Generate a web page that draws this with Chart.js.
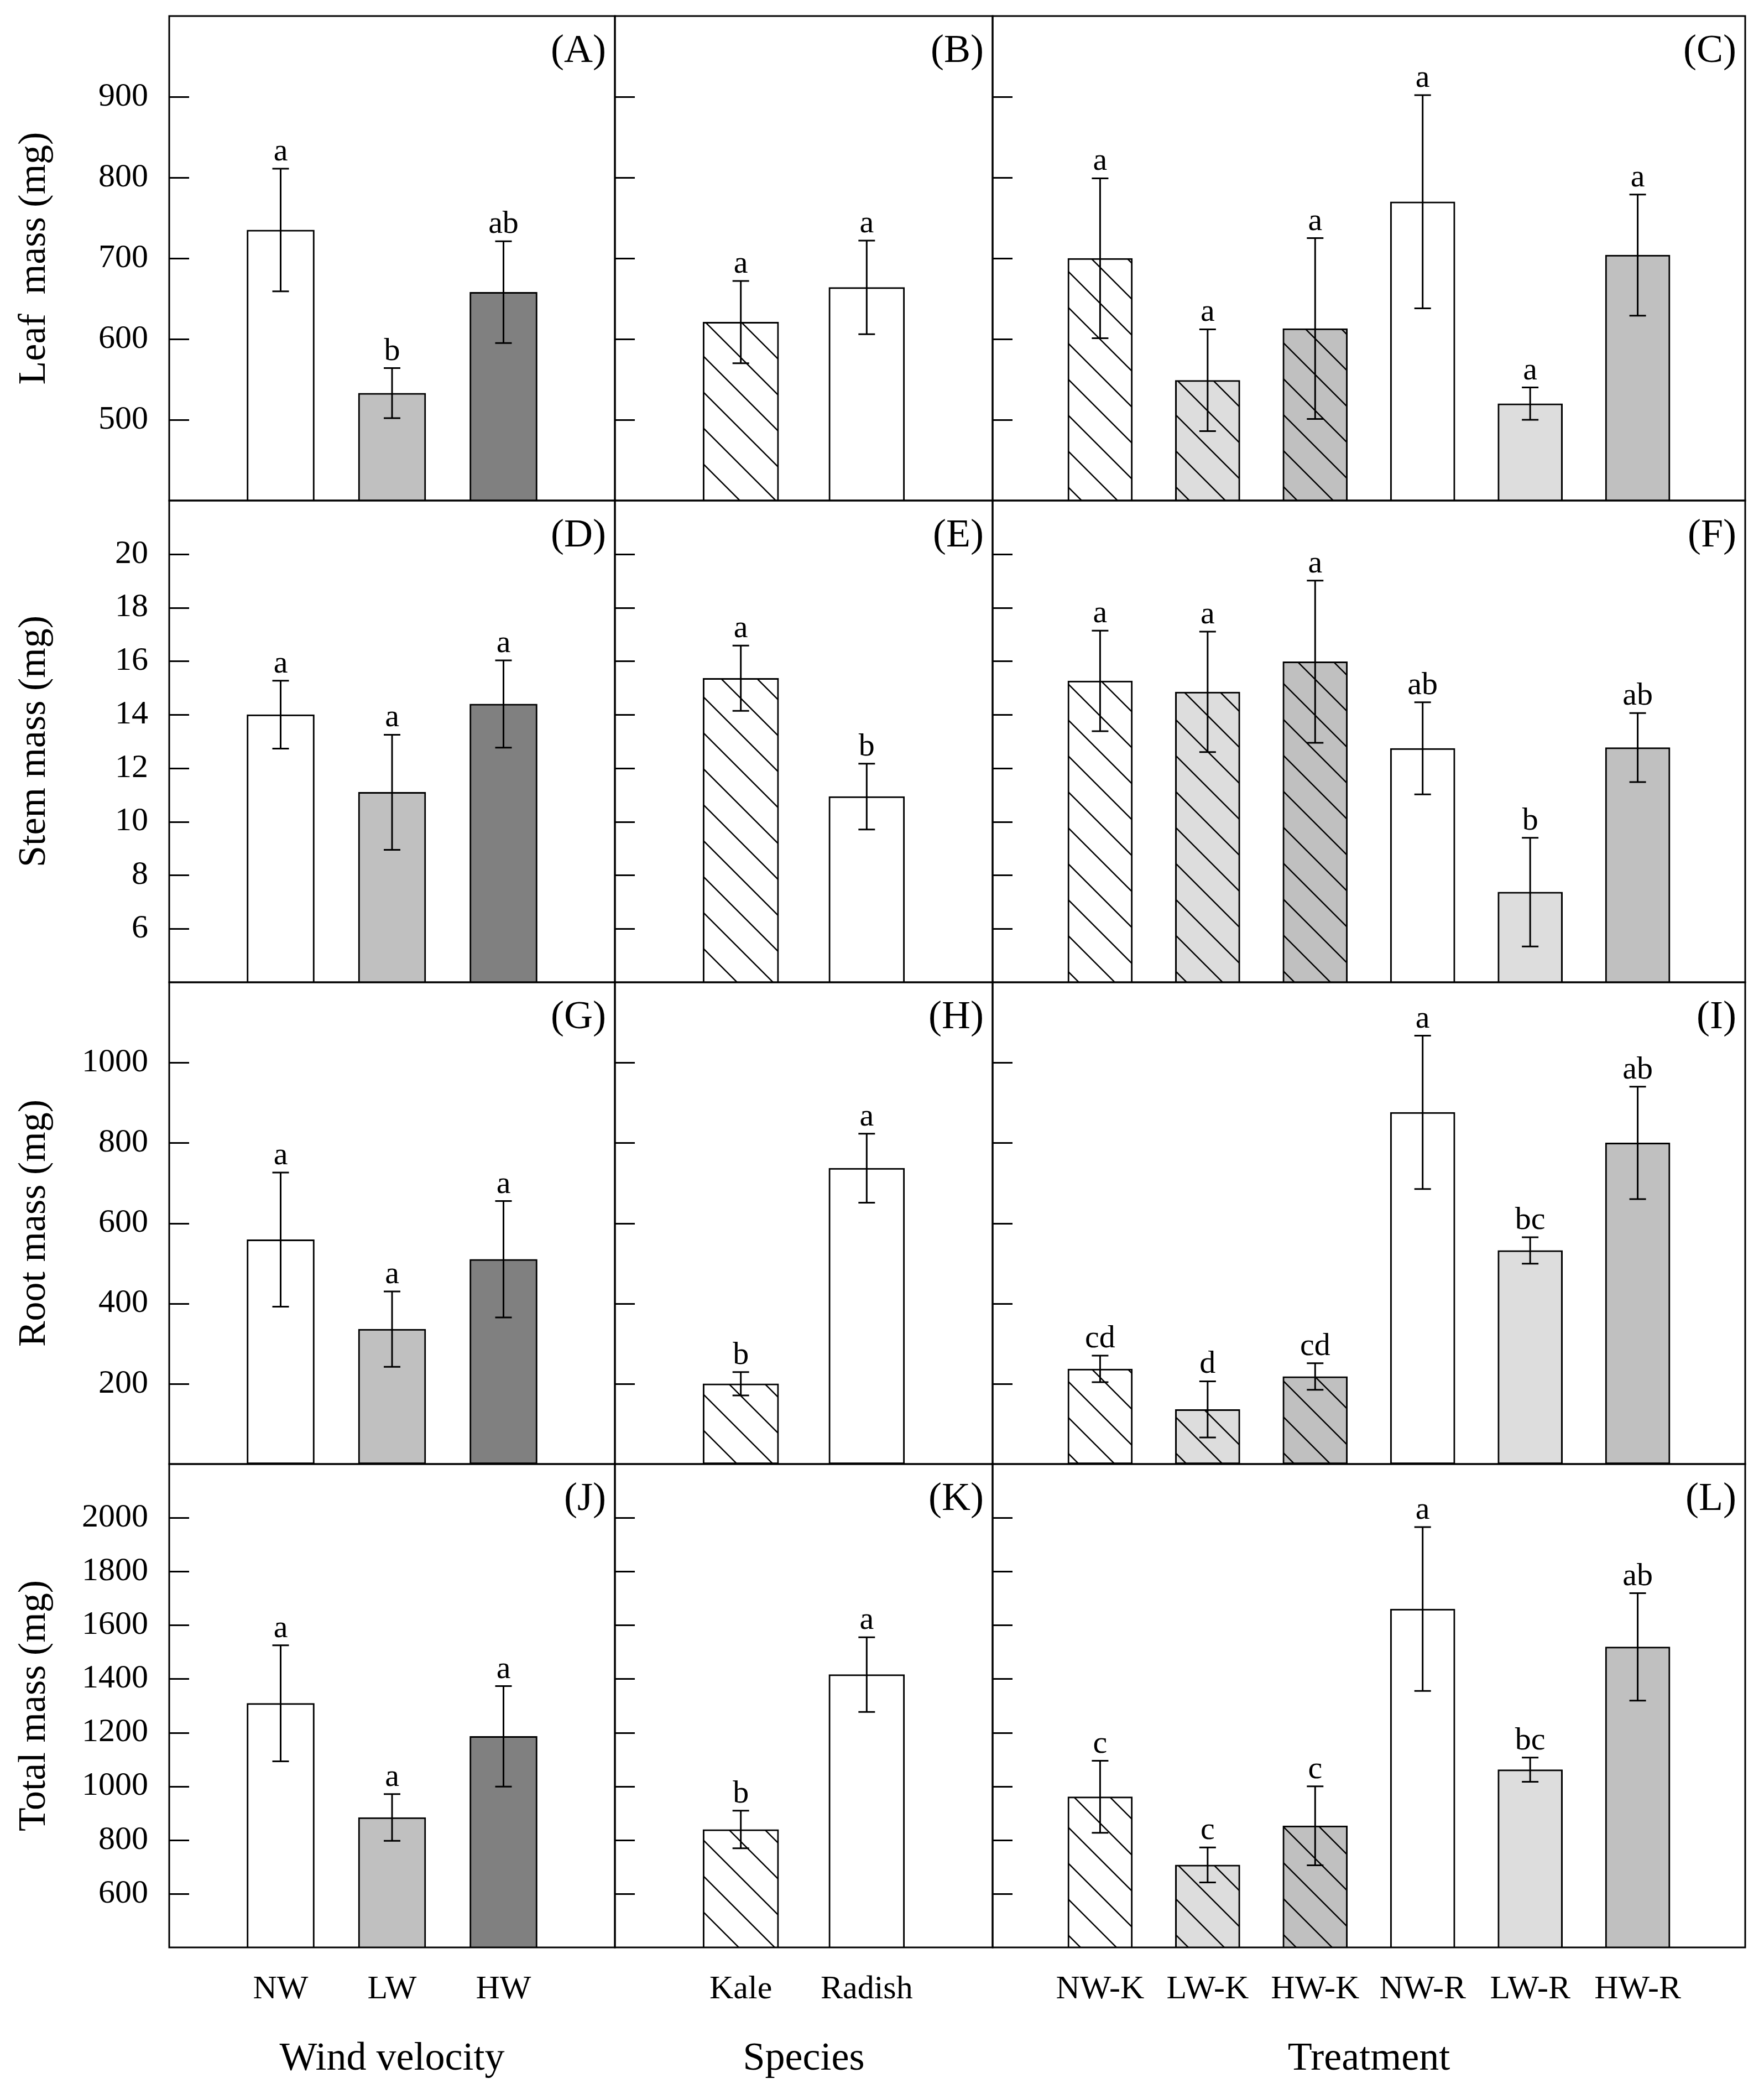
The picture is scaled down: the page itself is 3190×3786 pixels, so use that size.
<!DOCTYPE html>
<html>
<head>
<meta charset="utf-8">
<title>Leaf, stem, root and total mass</title>
<script src="https://cdn.jsdelivr.net/npm/chart.js"></script>
<style>
  body { margin: 0; background: #fff; }
  #fig { position: relative; width: 3190px; height: 3786px; background: #fff; }
  #fig canvas { position: absolute; }
</style>
</head>
<body>
<div id="fig"></div>
<script>
// categories
const windCats = ['NW', 'LW', 'HW'];
const speciesCats = ['Kale', 'Radish'];
const treatCats = ['NW-K', 'LW-K', 'HW-K', 'NW-R', 'LW-R', 'HW-R'];

// leaf mass (mg)
const leafWind = [735, 533, 658];
const leafWindErr = [76, 31, 63];
const leafWindSig = ['a', 'b', 'ab'];
const leafSpecies = [621, 664];
const leafSpeciesErr = [51, 58];
const leafSpeciesSig = ['a', 'a'];
const leafTreat = [700, 549, 613, 770, 520, 704];
const leafTreatErr = [99, 63, 112, 132, 20, 75];
const leafTreatSig = ['a', 'a', 'a', 'a', 'a', 'a'];

// stem mass (mg)
const stemWind = [14.0, 11.1, 14.4];
const stemWindErr = [1.27, 2.15, 1.63];
const stemWindSig = ['a', 'a', 'a'];
const stemSpecies = [15.36, 10.94];
const stemSpeciesErr = [1.22, 1.23];
const stemSpeciesSig = ['a', 'b'];
const stemTreat = [15.26, 14.85, 15.98, 12.74, 7.37, 12.77];
const stemTreatErr = [1.88, 2.25, 3.03, 1.72, 2.03, 1.29];
const stemTreatSig = ['a', 'a', 'a', 'ab', 'b', 'ab'];

// root mass (mg)
const rootWind = [559, 336, 510];
const rootWindErr = [167, 94, 145];
const rootWindSig = ['a', 'a', 'a'];
const rootSpecies = [200, 737];
const rootSpeciesErr = [29, 86];
const rootSpeciesSig = ['b', 'a'];
const rootTreat = [237, 136, 218, 876, 532, 800];
const rootTreatErr = [33, 70, 33, 191, 33, 140];
const rootTreatSig = ['cd', 'd', 'cd', 'a', 'bc', 'ab'];

// total mass (mg)
const totalWind = [1309, 884, 1186];
const totalWindErr = [216, 87, 187];
const totalWindSig = ['a', 'a', 'a'];
const totalSpecies = [839, 1416];
const totalSpeciesErr = [70, 139];
const totalSpeciesSig = ['b', 'a'];
const totalTreat = [961, 707, 853, 1660, 1062, 1519];
const totalTreatErr = [134, 65, 147, 305, 45, 200];
const totalTreatSig = ['c', 'c', 'c', 'a', 'bc', 'ab'];

// y tick labels
const leafTicks = [500, 600, 700, 800, 900];
const stemTicks = [6, 8, 10, 12, 14, 16, 18, 20];
const rootTicks = [200, 400, 600, 800, 1000];
const totalTicks = [600, 800, 1000, 1200, 1400, 1600, 1800, 2000];

const colX = [306, 1112, 1795, 3156];
const rowY = [29, 905, 1776, 2647, 3521];
const serif = '"Liberation Serif", "Times New Roman", serif';

function hatch(bg) {
  const s = 65;
  const c = document.createElement('canvas');
  c.width = s; c.height = s;
  const g = c.getContext('2d');
  g.fillStyle = bg;
  g.fillRect(0, 0, s, s);
  g.strokeStyle = '#000';
  g.lineWidth = 2.5;
  for (const k of [-1, 0, 1]) {
    g.beginPath();
    g.moveTo(k * s - 5, -5);
    g.lineTo(k * s + s + 5, s + 5);
    g.stroke();
  }
  return g.createPattern(c, 'repeat');
}

const windFill = ['#ffffff', '#c0c0c0', '#808080'];
const speciesFill = [hatch('#ffffff'), '#ffffff'];
const treatFill = [hatch('#ffffff'), hatch('#dddddd'), hatch('#c0c0c0'), '#ffffff', '#dddddd', '#c0c0c0'];

const rows = [
  { title: 'Leaf  mass (mg)', min: 400, max: 1000, ticks: leafTicks,
    panels: [[leafWind, leafWindErr, leafWindSig], [leafSpecies, leafSpeciesErr, leafSpeciesSig], [leafTreat, leafTreatErr, leafTreatSig]] },
  { title: 'Stem mass (mg)', min: 4, max: 22, ticks: stemTicks,
    panels: [[stemWind, stemWindErr, stemWindSig], [stemSpecies, stemSpeciesErr, stemSpeciesSig], [stemTreat, stemTreatErr, stemTreatSig]] },
  { title: 'Root mass (mg)', min: 0, max: 1200, ticks: rootTicks,
    panels: [[rootWind, rootWindErr, rootWindSig], [rootSpecies, rootSpeciesErr, rootSpeciesSig], [rootTreat, rootTreatErr, rootTreatSig]] },
  { title: 'Total mass (mg)', min: 400, max: 2200, ticks: totalTicks,
    panels: [[totalWind, totalWindErr, totalWindSig], [totalSpecies, totalSpeciesErr, totalSpeciesSig], [totalTreat, totalTreatErr, totalTreatSig]] }
];
const cols = [
  { cats: windCats, fill: windFill, bar: 122, xTitle: 'Wind velocity' },
  { cats: speciesCats, fill: speciesFill, bar: 137, xTitle: 'Species' },
  { cats: treatCats, fill: treatFill, bar: 117, xTitle: 'Treatment' }
];

// error bars, letters, inward ticks, frame and panel tag
const panelDeco = {
  id: 'panelDeco',
  afterDatasetsDraw(chart, args, opts) {
    const { ctx, chartArea: a, scales: { x, y } } = chart;
    const vals = chart.data.datasets[0].data;
    ctx.save();
    ctx.strokeStyle = '#000';
    ctx.fillStyle = '#000';
    ctx.lineWidth = 3;
    ctx.font = '58px ' + serif;
    ctx.textAlign = 'center';
    ctx.textBaseline = 'alphabetic';
    vals.forEach((v, i) => {
      if (v == null) return;
      const e = opts.err[i - 1];
      const px = x.getPixelForValue(i);
      const top = y.getPixelForValue(v + e);
      const bot = y.getPixelForValue(v - e);
      ctx.beginPath();
      ctx.moveTo(px, top); ctx.lineTo(px, bot);
      ctx.moveTo(px - 15, top); ctx.lineTo(px + 15, top);
      ctx.moveTo(px - 15, bot); ctx.lineTo(px + 15, bot);
      ctx.stroke();
      ctx.fillText(opts.sig[i - 1], px, top - 15);
    });
    ctx.beginPath();
    opts.ticks.forEach(t => {
      const py = Math.round(y.getPixelForValue(t)) + 0.5;
      ctx.moveTo(a.left, py); ctx.lineTo(a.left + 36, py);
    });
    ctx.stroke();
    ctx.strokeRect(a.left, a.top, a.right - a.left, a.bottom - a.top);
    ctx.font = '72px ' + serif;
    ctx.textAlign = 'right';
    ctx.textBaseline = 'middle';
    ctx.fillText('(' + opts.tag + ')', a.right - 16, a.top + 64);
    ctx.restore();
  }
};

const fig = document.getElementById('fig');
const tags = 'ABCDEFGHIJKL';

rows.forEach((row, r) => {
  cols.forEach((col, c) => {
    const [vals, errs, sigs] = row.panels[c];
    const left = c === 0 ? 0 : colX[c] - 10;
    const right = colX[c + 1] + 10;
    const top = rowY[r] - 10;
    const bottom = r === 3 ? 3786 : rowY[r + 1] + 10;
    const cv = document.createElement('canvas');
    cv.width = right - left;
    cv.height = bottom - top;
    cv.style.left = left + 'px';
    cv.style.top = top + 'px';
    cv.style.width = (right - left) + 'px';
    cv.style.height = (bottom - top) + 'px';
    fig.appendChild(cv);

    new Chart(cv, {
      type: 'bar',
      data: {
        labels: ['', ...col.cats, ''],
        datasets: [{
          data: [null, ...vals, null],
          backgroundColor: ['#fff', ...col.fill, '#fff'],
          borderColor: '#000',
          borderWidth: 3,
          borderSkipped: false,
          barThickness: col.bar
        }]
      },
      options: {
        responsive: false,
        animation: false,
        devicePixelRatio: 1,
        layout: { padding: { left: c === 0 ? 0 : 10, right: 10, top: 10, bottom: r === 3 ? 0 : 10 } },
        plugins: {
          legend: { display: false },
          tooltip: { enabled: false },
          panelDeco: { err: errs, sig: sigs, ticks: row.ticks, tag: tags[r * 3 + c] }
        },
        scales: {
          x: {
            type: 'category',
            offset: false,
            display: r === 3,
            grid: { display: false },
            border: { display: false },
            ticks: { autoSkip: false, maxRotation: 0, padding: 32, color: '#000', font: { family: serif, size: 60 } },
            title: { display: true, text: col.xTitle, color: '#000', font: { family: serif, size: 72 }, padding: { top: 0, bottom: 20 } },
            afterFit: s => {
              if (r !== 3) return;
              s.height = 265;
              s.paddingLeft = 0; s.paddingRight = 0;
            }
          },
          y: {
            min: row.min,
            max: row.max,
            display: c === 0,
            grid: { display: false },
            border: { display: false },
            afterBuildTicks: s => { s.ticks = row.ticks.map(v => ({ value: v })); },
            ticks: { padding: 30, color: '#000', font: { family: serif, size: 60 }, callback: v => String(v) },
            title: { display: true, text: row.title, color: '#000', font: { family: serif, size: 70 }, padding: { top: 21, bottom: 0 } },
            afterFit: s => {
              if (c !== 0) return;
              s.width = 306;
              s.paddingTop = 0; s.paddingBottom = 0;
            }
          }
        }
      },
      plugins: [panelDeco]
    });
  });
});
</script>
</body>
</html>
